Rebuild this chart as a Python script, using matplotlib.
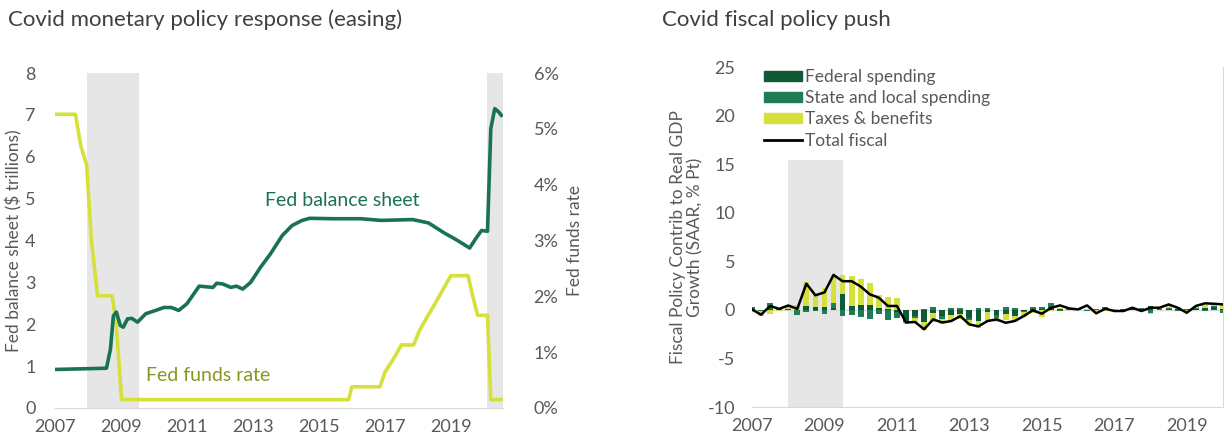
import numpy as np
import matplotlib
matplotlib.use("Agg")
import matplotlib.pyplot as plt
from matplotlib.patches import Patch
from matplotlib.lines import Line2D

# --- left chart: Fed balance sheet ($tn) and fed funds rate (%) ---
bs_year = [2007.0, 2008.56, 2008.68, 2008.77, 2008.86, 2008.98, 2009.07, 2009.2, 2009.33,
           2009.5, 2009.75, 2010.05, 2010.3, 2010.53, 2010.75, 2011.0, 2011.37, 2011.79,
           2011.9, 2012.09, 2012.33, 2012.5, 2012.69, 2012.93, 2013.23, 2013.53, 2013.89,
           2014.19, 2014.49, 2014.72, 2015.44, 2016.28, 2016.88, 2017.84, 2018.32, 2018.8,
           2019.16, 2019.57, 2019.75, 2019.93, 2020.11, 2020.21, 2020.33, 2020.45, 2020.53]
bs_value = [0.92, 0.95, 1.4, 2.2, 2.29, 1.97, 1.93, 2.13, 2.14,
            2.05, 2.25, 2.33, 2.4, 2.4, 2.33, 2.49, 2.91, 2.88,
            2.98, 2.96, 2.88, 2.91, 2.84, 3.0, 3.36, 3.68, 4.12,
            4.36, 4.48, 4.53, 4.52, 4.52, 4.48, 4.5, 4.42, 4.18,
            4.02, 3.82, 4.04, 4.24, 4.22, 6.67, 7.15, 7.07, 6.99]

ff_year = [2007.0, 2007.62, 2007.78, 2007.96, 2008.1, 2008.29, 2008.73, 2008.85, 2009.02,
           2015.9, 2016.0, 2016.85, 2017.0, 2017.26, 2017.5, 2017.87, 2018.05, 2018.29,
           2018.53, 2018.77, 2019.0, 2019.52, 2019.66, 2019.81, 2020.11, 2020.21, 2020.53]
ff_value = [5.26, 5.26, 4.7, 4.35, 3.03, 2.01, 2.01, 1.54, 0.15,
            0.15, 0.38, 0.38, 0.64, 0.88, 1.13, 1.13, 1.39, 1.64,
            1.88, 2.13, 2.37, 2.37, 2.01, 1.66, 1.66, 0.15, 0.15]

recessions_left = [(2007.97, 2009.55), (2020.1, 2020.58)]

# --- right chart: quarterly fiscal contributions (2007Q1 - 2020Q1) ---
quarters = [2007 + 0.25 * i for i in range(53)]
federal = [0.0, 0.0, 0.1, 0.0, 0.05, 0.0, 0.35, 0.25, 0.3, 0.2, 1.6, 0.35, 0.55, 0.45, 0.15,
           0.1, -0.2, -1.1, -0.6, -1.2, -0.3, -0.6, -0.5, -0.4, -0.8, -1.1, -0.2, -0.5, -0.4,
           -0.6, -0.1, 0.1, 0.1, 0.1, 0.05, 0.0, 0.05, 0.0, -0.05, 0.05, 0.0, -0.1, 0.05, 0.0,
           0.35, 0.0, 0.05, 0.1, 0.0, 0.05, 0.15, 0.3, 0.1]
state = [0.25, -0.1, 0.6, 0.1, 0.05, -0.5, -0.25, -0.15, -0.4, 0.5, -0.65, -0.5, -0.7, -0.95,
         -0.4, -1.05, -0.6, -0.2, -0.2, 0.1, 0.3, -0.3, 0.2, 0.2, -0.2, 0.2, 0.2, -0.3, 0.3,
         0.2, -0.1, 0.2, 0.15, 0.6, -0.15, 0.1, 0.05, -0.1, 0.1, 0.2, -0.1, 0.1, 0.05, 0.15,
         -0.3, 0.1, 0.1, -0.15, 0.05, 0.1, -0.1, 0.1, -0.3]
taxes = [-0.2, -0.5, -0.4, -0.1, 0.35, 0.5, 2.5, 1.35, 1.9, 2.9, 2.0, 3.1, 2.6, 2.3, 1.4,
         1.25, 1.2, -0.2, -0.6, -0.9, -0.9, -0.6, -0.5, -0.5, -0.6, -0.8, -0.9, -0.5, -0.6,
         -0.6, -0.5, -0.3, -0.7, -0.1, 0.1, 0.1, -0.05, 0.1, -0.2, -0.1, 0.05, -0.1, 0.1,
         -0.1, -0.1, 0.15, 0.2, 0.15, -0.2, 0.2, 0.3, 0.2, 0.45]
total = [0.05, -0.5, 0.4, 0.1, 0.45, 0.1, 2.7, 1.5, 1.8, 3.6, 2.95, 2.95, 2.4, 1.6, 1.25,
         0.4, 0.4, -1.3, -1.25, -2.0, -0.98, -1.3, -1.15, -0.64, -1.5, -1.7, -1.15, -0.98,
         -1.33, -1.15, -0.64, -0.05, -0.4, 0.2, 0.46, 0.15, 0.05, 0.46, -0.36, 0.12, -0.12,
         -0.12, 0.22, -0.12, 0.22, 0.22, 0.56, 0.22, -0.3, 0.4, 0.67, 0.63, 0.56]

recession_right = (2008.0, 2009.5)
year_ticks = [2007, 2009, 2011, 2013, 2015, 2017, 2019]

GREY_TXT = "#595959"
DARK_GREEN = "#0d5a34"
MID_GREEN = "#1e7d55"
LINE_GREEN = "#1a7350"
YELLOW = "#d5e03a"
SHADE = "#e6e6e6"
AXIS_GREY = "#d9d9d9"

plt.rcParams["font.family"] = ["Lato", "DejaVu Sans"]
plt.rcParams["axes.unicode_minus"] = False

fig = plt.figure(figsize=(12.25, 4.38), dpi=100)

# ---------------- left panel ----------------
ax = fig.add_axes([55 / 1225, 1 - 408 / 438, (503 - 55) / 1225, (408 - 73) / 438])
ax2 = ax.twinx()
ax.set_zorder(ax2.get_zorder() + 1)
ax.patch.set_visible(False)
for a, b in recessions_left:
    ax2.axvspan(a, b, color=SHADE, lw=0, zorder=0)
ax2.plot(ff_year, ff_value, color=YELLOW, lw=2.6, solid_joinstyle="round", zorder=2)
ax.plot(bs_year, bs_value, color=LINE_GREEN, lw=2.6, solid_joinstyle="round", zorder=3)

ax.set_xlim(2007, 2020.58)
ax.set_ylim(0, 8)
ax2.set_ylim(0, 6)
ax.set_xticks(year_ticks)
ax.set_yticks(range(0, 9))
ax2.set_yticks(range(0, 7))
ax2.set_yticklabels([f"{v}%" for v in range(0, 7)])
for a in (ax, ax2):
    for s in a.spines.values():
        s.set_visible(False)
    a.tick_params(length=0, labelsize=13, colors=GREY_TXT)
ax.spines["bottom"].set_visible(True)
ax.spines["bottom"].set_color(AXIS_GREY)
ax.tick_params(axis="x", pad=8)
ax.tick_params(axis="y", pad=14)
ax2.tick_params(axis="y", pad=22)
ax.set_ylabel("Fed balance sheet ($ trillions)", fontsize=12.5, color=GREY_TXT, labelpad=2)
ax2.set_ylabel("Fed funds rate", fontsize=12.5, color=GREY_TXT, labelpad=6)
ax.text(2015.7, 4.96, "Fed balance sheet", fontsize=14, color=LINE_GREEN,
        ha="center", va="center")
ax.text(2011.65, 0.77, "Fed funds rate", fontsize=14, color="#8a961f",
        ha="center", va="center")
fig.text(8 / 1225, 1 - 20 / 438, "Covid monetary policy response (easing)", fontsize=16,
         color="#404040", ha="left", va="center")

# ---------------- right panel ----------------
bx = fig.add_axes([752 / 1225, 1 - 407 / 438, (1223 - 752) / 1225, (407 - 67) / 438])
bx.fill_between(recession_right, -10, 15.4, color=SHADE, lw=0, zorder=0)
bx.axhline(0, color=AXIS_GREY, lw=1, zorder=1)

w = 0.16
pos_bottom = np.zeros(len(quarters))
neg_bottom = np.zeros(len(quarters))
for series, col in ((federal, DARK_GREEN), (state, MID_GREEN), (taxes, YELLOW)):
    vals = np.array(series)
    bottoms = np.where(vals >= 0, pos_bottom, neg_bottom)
    bx.bar(quarters, vals, width=w, bottom=bottoms, color=col, lw=0, zorder=2)
    pos_bottom += np.where(vals >= 0, vals, 0)
    neg_bottom += np.where(vals < 0, vals, 0)
bx.plot(quarters, total, color="black", lw=1.8, zorder=3)

bx.set_xlim(2007, 2020.0)
bx.set_ylim(-10, 25)
bx.set_xticks(year_ticks)
bx.set_yticks(range(-10, 26, 5))
for s in bx.spines.values():
    s.set_visible(False)
bx.spines["bottom"].set_visible(True)
bx.spines["bottom"].set_color(AXIS_GREY)
bx.spines["right"].set_visible(True)
bx.spines["right"].set_color(AXIS_GREY)
bx.tick_params(length=0, labelsize=13, colors=GREY_TXT)
bx.tick_params(axis="x", pad=8)
bx.tick_params(axis="y", pad=12)
bx.set_ylabel("Fiscal Policy Contrib to Real GDP\nGrowth (SAAR, % Pt)", fontsize=12.5,
              color=GREY_TXT, labelpad=3, linespacing=1.15)

handles = [Patch(color=DARK_GREEN), Patch(color=MID_GREEN), Patch(color=YELLOW),
           Line2D([0], [0], color="black", lw=2)]
labels = ["Federal spending", "State and local spending", "Taxes & benefits", "Total fiscal"]
bx.legend(handles, labels, loc="upper left", bbox_to_anchor=(0.0, 1.03), frameon=False,
          fontsize=12.5, handlelength=2.2, handleheight=0.55, handletextpad=0.15,
          labelspacing=0.3, borderaxespad=0.3, labelcolor=GREY_TXT)
fig.text(662 / 1225, 1 - 20 / 438, "Covid fiscal policy push", fontsize=16,
         color="#404040", ha="left", va="center")

fig.savefig("out.png", dpi=100)
